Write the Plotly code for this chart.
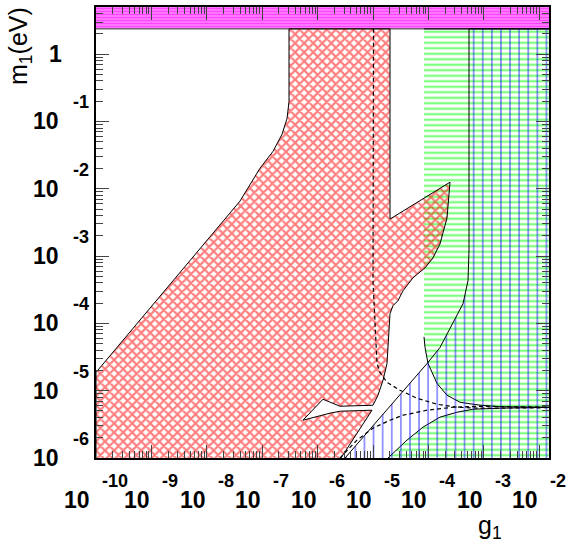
import numpy as np
import plotly.graph_objects as go

# ---------------- data (log10 units) ----------------
x_range = [-10.0, -1.823]          # log10(g1)
y_range = [-6.0, 0.701]            # log10(m1 / eV)
x_tick_exps = [-10, -9, -8, -7, -6, -5, -4, -3, -2]
y_tick_exps = [-6, -5, -4, -3, -2, -1, 0]

# magenta band (large masses)
band_lg = [-10.5, -1.5, -1.5, -10.5]
band_lm = [0.376, 0.376, 0.9, 0.9]

# red cross-hatched region
red_lg = [-10.0, -10.0, -7.401, -7.220, -7.040, -6.805, -6.643, -6.552, -6.516, -6.516,
          -4.693, -4.693, -3.610, -3.664, -3.791, -3.917, -4.061, -4.278, -4.458, -4.549,
          -4.639, -4.693, -4.747, -4.819, -4.910, -5.000, -5.596, -5.903,
          -6.264, -5.776, -5.596, -5.018, -5.542, -5.578]
red_lm = [-6.0, -4.728, -2.183, -1.932, -1.695, -1.444, -1.192, -0.956, -0.704, 0.376,
          0.376, -2.450, -1.902, -2.435, -2.820, -3.027, -3.175, -3.322, -3.515, -3.663,
          -3.737, -3.855, -4.595, -4.846, -5.068, -5.216, -5.231, -5.127,
          -5.438, -5.334, -5.305, -5.290, -5.956, -6.0]

# green horizontal-hatched region (upper part and lower part)
green_up_lg = [-4.079, -1.7, -1.7, -2.708, -3.069, -3.430, -3.664, -3.845, -4.007, -4.061,
               -4.079]
green_up_lm = [0.376, 0.376, -5.246, -5.238, -5.216, -5.172, -5.068, -4.891, -4.595, -4.358,
               -4.200]
green_lo_lg = [-4.729, -4.386, -4.097, -3.791, -3.484, -3.195, -2.708, -1.7, -1.7]
green_lo_lm = [-6.0, -5.734, -5.541, -5.393, -5.320, -5.275, -5.260, -5.246, -6.0]

# blue vertical-hatched region
blue_lg = [-5.505, -4.007, -3.791, -3.556, -3.375, -3.285, -3.267, -3.267, -1.7, -1.7]
blue_lm = [-6.0, -4.580, -4.358, -4.003, -3.707, -3.367, -2.923, 0.376, 0.376, -6.0]

# dashed curves
dashA_lg = [-4.991, -5.000, -4.928, -4.874, -4.747, -4.513, -4.206, -3.845, -3.484, -3.069,
            -1.823]
dashA_lm = [0.376, -3.367, -4.595, -4.728, -4.876, -4.994, -5.112, -5.201, -5.246, -5.260,
            -5.253]
dashB_lg = [-5.596, -5.289, -5.000, -4.693, -4.458, -4.025, -3.556, -3.069, -1.823]
dashB_lm = [-6.0, -5.734, -5.556, -5.438, -5.364, -5.290, -5.246, -5.231, -5.246]

# ---------------- figure ----------------
fig = go.Figure()
CLEAR = "rgba(0,0,0,0)"


def lin(vals):
    return [None if v is None else 10.0 ** v for v in vals]


def poly(lg, lm, pattern, line_color="black"):
    fig.add_trace(go.Scatter(
        x=lin(lg), y=lin(lm), mode="lines", fill="toself", fillcolor=CLEAR,
        fillpattern=pattern, line=dict(color=line_color, width=1),
        hoverinfo="skip", showlegend=False))


poly(band_lg, band_lm, dict(shape="-", size=3, solidity=0.5, fgcolor="#ff00ff", bgcolor="#ff88ff"),
     line_color="#333333")
poly(green_up_lg + [None] + green_lo_lg, green_up_lm + [None] + green_lo_lm,
     dict(shape="-", size=5.5, solidity=0.42, fgcolor="#00ff00", bgcolor=CLEAR))
poly(blue_lg, blue_lm, dict(shape="|", size=9.1, solidity=0.17, fgcolor="#0000ff", bgcolor=CLEAR))
poly(red_lg, red_lm, dict(shape="x", size=6.4, solidity=0.55, fgcolor="#ff0000", bgcolor=CLEAR))

for lg, lm in [(dashA_lg, dashA_lm), (dashB_lg, dashB_lm)]:
    fig.add_trace(go.Scatter(x=lin(lg), y=lin(lm), mode="lines",
                             line=dict(color="black", width=1.2, dash="4px,3px"),
                             hoverinfo="skip", showlegend=False))

x_minor = [k * 10.0 ** e for e in range(-10, -1) for k in range(2, 10)]
x_minor = [v for v in x_minor if np.log10(v) < x_range[1]]
y_minor = [k * 10.0 ** e for e in range(-6, 1) for k in range(2, 10)]
y_minor = [v for v in y_minor if np.log10(v) < y_range[1]]

axis_common = dict(type="log", showline=True, linecolor="black", linewidth=2, mirror="ticks",
                   ticks="inside", ticklen=13, tickwidth=1, tickcolor="#444444",
                   showticklabels=False, showgrid=False, zeroline=False)

fig.update_layout(
    width=571, height=548,
    margin=dict(l=96, r=22, t=5, b=90),
    paper_bgcolor="white", plot_bgcolor="white",
    xaxis=dict(range=x_range, tickvals=[10.0 ** e for e in x_tick_exps],
               minor=dict(ticks="inside", ticklen=7, tickvals=x_minor, tickcolor="#444444",
                          showgrid=False),
               **axis_common),
    yaxis=dict(range=y_range, tickvals=[10.0 ** e for e in y_tick_exps],
               minor=dict(ticks="inside", ticklen=7, tickvals=y_minor, tickcolor="#444444",
                          showgrid=False),
               **axis_common),
)

FONT = "Liberation Sans, Arial, Helvetica, sans-serif"
base_font = dict(family=FONT, size=23, color="black", weight="bold")
exp_font = dict(family=FONT, size=18, color="black", weight="bold")

# x tick labels: "10" with exponent
for e in x_tick_exps:
    s = str(e)
    w_exp = 18 * (0.333 + 0.556 * (len(s) - 1))
    base_right = (26 - 9 - w_exp) / 2 + 0.5
    fig.add_annotation(x=e, xref="x", y=0, yref="paper", text="10", showarrow=False,
                       xanchor="right", yanchor="top", xshift=base_right, yshift=-27,
                       font=base_font)
    fig.add_annotation(x=e, xref="x", y=0, yref="paper", text=s, showarrow=False,
                       xanchor="left", yanchor="top", xshift=base_right + 8, yshift=-11,
                       font=exp_font)

# y tick labels
for e in y_tick_exps:
    fig.add_annotation(x=0, xref="paper", y=e, yref="y", text="1" if e == 0 else "10",
                       showarrow=False, xanchor="right", yanchor="middle",
                       xshift=-32 if e == 0 else -35, yshift=0, font=base_font)
    if e != 0:
        fig.add_annotation(x=0, xref="paper", y=e, yref="y", text=str(e), showarrow=False,
                           xanchor="right", yanchor="middle", xshift=-5, yshift=19,
                           font=exp_font)

# axis titles
title_font = dict(family=FONT, size=25, color="black")
fig.add_annotation(x=0, xref="paper", y=1, yref="paper", text="m<sub>1</sub>(eV)",
                   textangle=-90, showarrow=False, xanchor="center", yanchor="top",
                   xshift=-76, yshift=2, font=title_font)
fig.add_annotation(x=1, xref="paper", y=0, yref="paper", text="g<sub>1</sub>",
                   showarrow=False, xanchor="right", yanchor="top",
                   xshift=-45, yshift=-51, font=title_font)

fig.write_html("out.html")
